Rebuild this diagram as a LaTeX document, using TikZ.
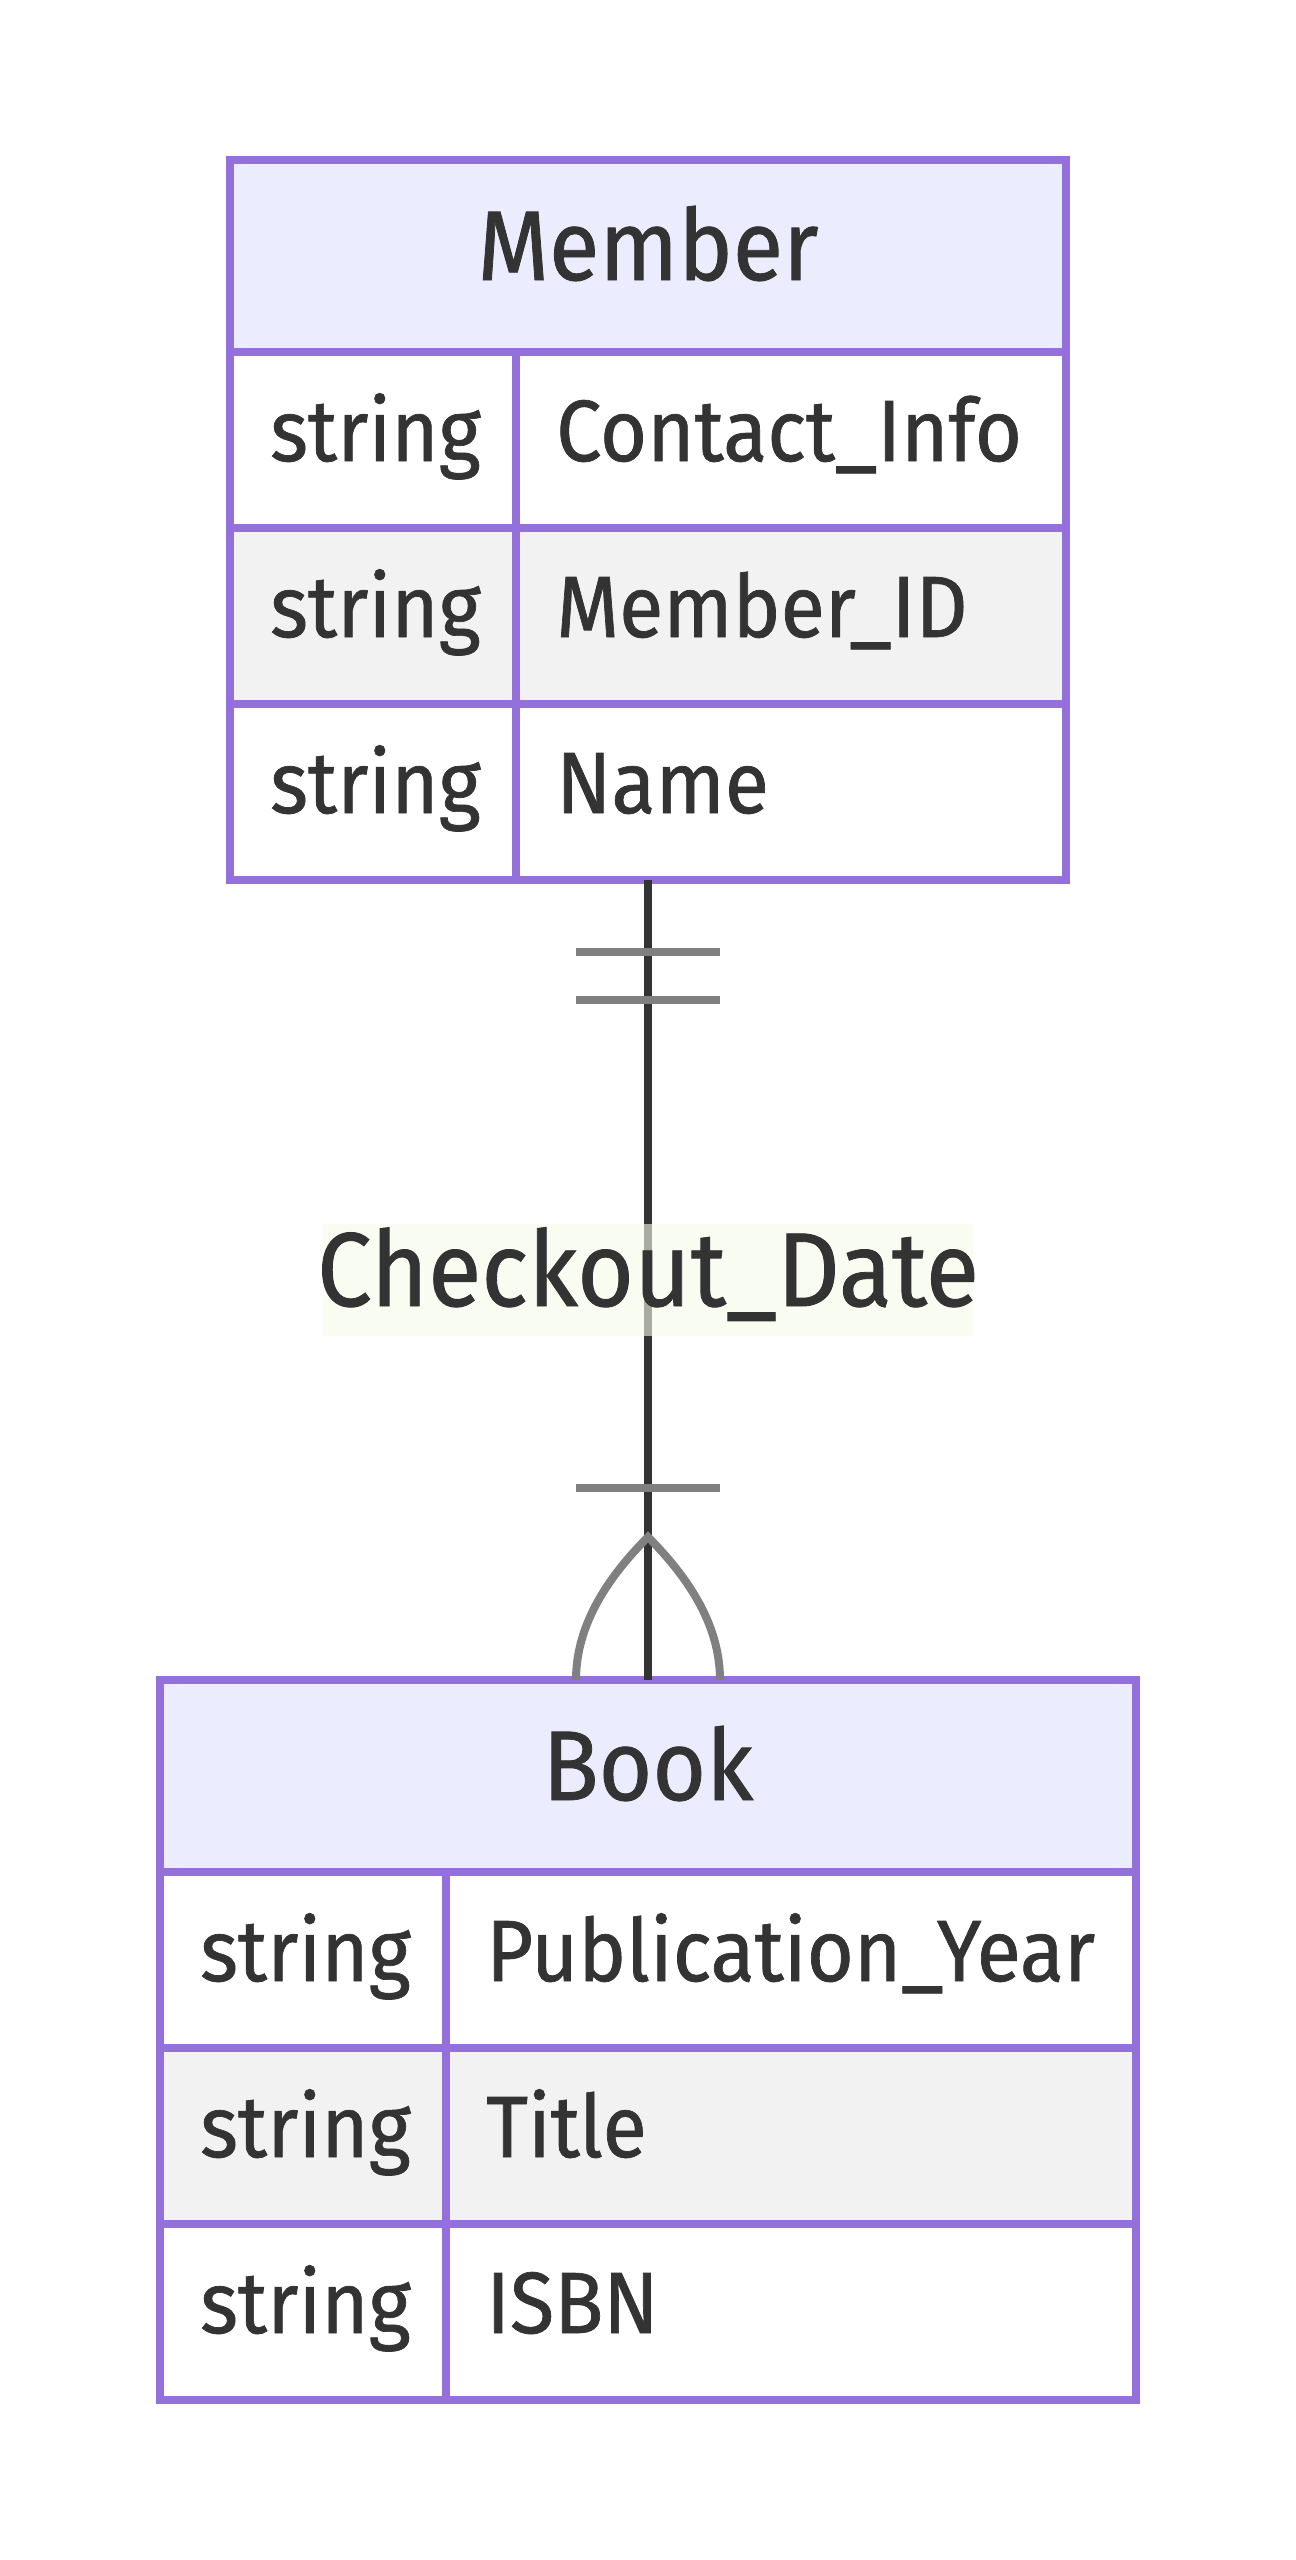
\documentclass[tikz,border=0pt]{standalone}
\usepackage{fontspec}
\setmainfont[FakeStretch=0.93,FakeBold=0.8]{Fira Sans}
\usetikzlibrary{calc}
\definecolor{bordc}{HTML}{9370DB}
\definecolor{hdrc}{HTML}{ECECFF}
\definecolor{altc}{HTML}{F2F2F2}
\definecolor{txtc}{HTML}{333333}
\definecolor{edgec}{HTML}{333333}
\definecolor{markc}{HTML}{808080}
\definecolor{lblc}{RGB}{246,251,232}
\tikzset{
  hdrbox/.style={draw=bordc, fill=hdrc, line width=8pt, minimum height=192pt, inner sep=0pt, outer sep=0pt, anchor=north west},
  cellbox/.style={draw=bordc, line width=8pt, minimum height=176pt, inner sep=0pt, outer sep=0pt, anchor=north west},
  entbox/.style={draw=bordc, line width=8pt, minimum height=720pt, inner sep=0pt, outer sep=0pt, anchor=north west},
  hdrtxt/.style={text=txtc, anchor=base, inner sep=0pt, font=\fontsize{99}{99}\selectfont},
  celltxt/.style={text=txtc, anchor=base west, inner sep=0pt, font=\fontsize{87}{87}\selectfont},
  lbltxt/.style={text=txtc, anchor=base, inner sep=0pt, font=\fontsize{105}{105}\selectfont},
  lblbg/.style={fill=lblc, fill opacity=0.6, minimum width=650pt, minimum height=112pt, inner sep=0pt},
  edge/.style={draw=edgec, line width=8pt},
  markline/.style={draw=markc, line width=8pt}
}
\begin{document}
\begin{tikzpicture}[x=1pt,y=-1pt]
\useasboundingbox[fill=white] (0,0) rectangle (1296,2560);
% ---------------- Member ----------------
\node[hdrbox, minimum width=836pt] (memberH) at (230,160) {};
\node[cellbox, fill=white, minimum width=286pt] (m1t) at (230,352) {};
\node[cellbox, fill=white, minimum width=550pt] (m1n) at (516,352) {};
\node[cellbox, fill=altc, minimum width=286pt] (m2t) at (230,528) {};
\node[cellbox, fill=altc, minimum width=550pt] (m2n) at (516,528) {};
\node[cellbox, fill=white, minimum width=286pt] (m3t) at (230,704) {};
\node[cellbox, fill=white, minimum width=550pt] (m3n) at (516,704) {};
\node[entbox, minimum width=836pt] (member) at (230,160) {};
\node[hdrtxt] (memberT) at (648,280) {Member};
\node[celltxt] (m1tT) at (270,461) {string};
\node[celltxt] (m1nT) at (556,461) {Contact\_Info};
\node[celltxt] (m2tT) at (270,637) {string};
\node[celltxt] (m2nT) at (556,637) {Member\_ID};
\node[celltxt] (m3tT) at (270,813) {string};
\node[celltxt] (m3nT) at (556,813) {Name};
% ---------------- Book ----------------
\node[hdrbox, minimum width=976pt] (bookH) at (160,1680) {};
\node[cellbox, fill=white, minimum width=286pt] (b1t) at (160,1872) {};
\node[cellbox, fill=white, minimum width=690pt] (b1n) at (446,1872) {};
\node[cellbox, fill=altc, minimum width=286pt] (b2t) at (160,2048) {};
\node[cellbox, fill=altc, minimum width=690pt] (b2n) at (446,2048) {};
\node[cellbox, fill=white, minimum width=286pt] (b3t) at (160,2224) {};
\node[cellbox, fill=white, minimum width=690pt] (b3n) at (446,2224) {};
\node[entbox, minimum width=976pt] (book) at (160,1680) {};
\node[hdrtxt] (bookT) at (648,1800) {Book};
\node[celltxt] (b1tT) at (200,1981) {string};
\node[celltxt] (b1nT) at (486,1981) {Publication\_Year};
\node[celltxt] (b2tT) at (200,2157) {string};
\node[celltxt] (b2nT) at (486,2157) {Title};
\node[celltxt] (b3tT) at (200,2333) {string};
\node[celltxt] (b3nT) at (486,2333) {ISBN};
% ---------------- Relationship ----------------
\draw[edge] (member.south) -- (book.north);
% one-and-only-one at Member
\draw[markline] ($(member.south)+(-72,72)$) -- ($(member.south)+(72,72)$);
\draw[markline] ($(member.south)+(-72,120)$) -- ($(member.south)+(72,120)$);
% one-or-more at Book
\draw[markline] ($(book.north)+(-72,-192)$) -- ($(book.north)+(72,-192)$);
\draw[markline] ($(book.north)+(-72,0)$) .. controls ($(book.north)+(-72,-48)$) and ($(book.north)+(-48,-95)$) .. ($(book.north)+(0,-143)$)
   .. controls ($(book.north)+(48,-95)$) and ($(book.north)+(72,-48)$) .. ($(book.north)+(72,0)$);
% label
\node[lblbg] (labbg) at (648,1280) {};
\node[lbltxt] (lab) at (648,1306) {Checkout\_Date};
\end{tikzpicture}
\end{document}
